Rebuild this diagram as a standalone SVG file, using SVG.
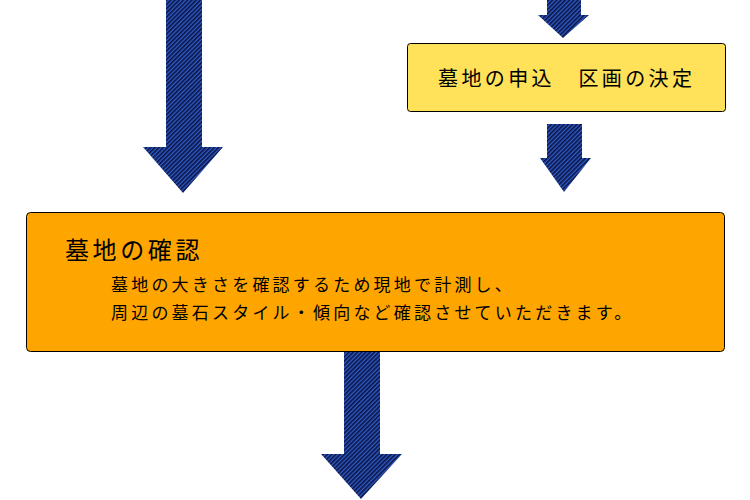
<svg xmlns="http://www.w3.org/2000/svg" width="750" height="500" viewBox="0 0 750 500">
  <defs>
    <pattern id="hatch" patternUnits="userSpaceOnUse" width="3" height="3" patternTransform="rotate(45)">
      <rect width="3" height="3" fill="#2e5cc8"/>
      <rect width="1.6" height="3" fill="#0b1240"/>
    </pattern>
  </defs>
  <style>
    .arrow { fill: url(#hatch); stroke: none; }
    .box { stroke: #000; stroke-width: 1; }
    .t { font-family: "Noto Sans CJK JP", "Noto Sans CJK SC", sans-serif; fill: #000; }
  </style>
  <rect width="750" height="500" fill="#fff"/>
  <g id="connectors">
    <polygon class="arrow" points="166,0 202,0 202,147 223,147 183,193 143,147 166,147"/>
    <polygon class="arrow" points="547,0 581,0 581,15 589,15 563,38 538,15 547,15"/>
    <polygon class="arrow" points="547,124 582,124 582,158 591,158 564,192 540,158 547,158"/>
    <polygon class="arrow" points="344,352 380,352 380,454 402,454 361,499 321,454 344,454"/>
  </g>
  <g id="node-apply">
    <rect class="box" x="407.5" y="43.5" width="318" height="68" rx="3" fill="#ffe15a"/>
    <text class="t" x="438" y="86" font-size="20" letter-spacing="3.4">墓地の申込　区画の決定</text>
  </g>
  <g id="node-confirm">
    <rect class="box" x="26.5" y="212.5" width="698" height="139" rx="4" fill="#ffa500"/>
    <text class="t" x="65" y="259" font-size="24" letter-spacing="3.6">墓地の確認</text>
    <text class="t" x="111" y="291" font-size="17" letter-spacing="3.2">墓地の大きさを確認するため現地で計測し、</text>
    <text class="t" x="111" y="319" font-size="17" letter-spacing="3.2">周辺の墓石スタイル・傾向など確認させていただきます。</text>
  </g>
</svg>
